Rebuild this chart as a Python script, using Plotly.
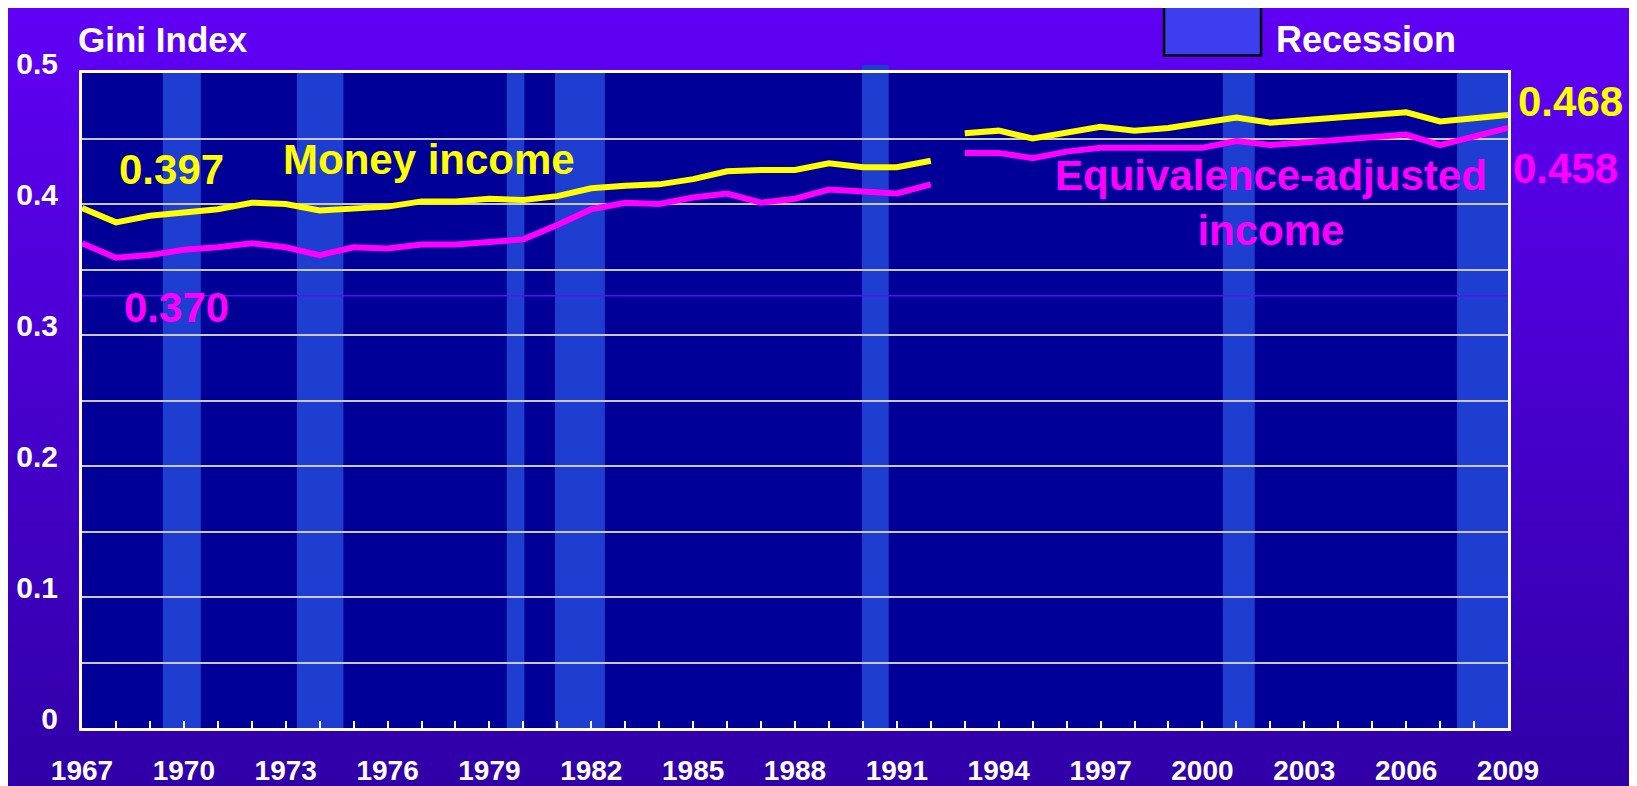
import plotly.graph_objects as go

# Gini index by year
years = list(range(1967, 2010))
money_income = [0.397, 0.386, 0.391, 0.394, 0.396, 0.401, 0.400, 0.395, 0.397, 0.398,
                0.402, 0.402, 0.404, 0.403, 0.406, 0.412, 0.414, 0.415, 0.419, 0.425,
                0.426, 0.426, 0.431, 0.428, 0.428, 0.433, 0.454, 0.456, 0.450, 0.455,
                0.459, 0.456, 0.458, 0.462, 0.466, 0.462, 0.464, 0.466, 0.469, 0.470,
                0.463, 0.466, 0.468]
equiv_income = [0.370, 0.359, 0.361, 0.365, 0.367, 0.370, 0.367, 0.361, 0.367, 0.366,
                0.369, 0.369, 0.371, 0.373, 0.384, 0.396, 0.401, 0.400, 0.405, 0.408,
                0.401, 0.404, 0.411, 0.409, 0.408, 0.415, 0.439, 0.439, 0.435, 0.440,
                0.443, 0.443, 0.443, 0.443, 0.448, 0.445, 0.447, 0.449, 0.452, 0.453,
                0.445, 0.452, 0.458]
break_after = 1992  # series break between 1992 and 1993

# recession periods (start, end) in fractional years
recessions = [(1969.38, 1970.50), (1973.33, 1974.70), (1979.51, 1980.03),
              (1980.93, 1982.40), (1989.97, 1990.76), (2000.60, 2001.54),
              (2007.50, 2009.20)]

y_ticks = [0, 0.1, 0.2, 0.3, 0.4, 0.5]
y_ticktext = ['0', '0.1', '0.2', '0.3', '0.4', '0.5']
x_ticks = list(range(1967, 2010, 3))

FONT = 'Liberation Sans, Arial, sans-serif'
NAVY = '#000099'
BAND = '#1e3ed2'

fig = go.Figure()

# lines, split at the series break
for vals, col in [(money_income, '#ffff00'), (equiv_income, '#ff00ff')]:
    for part in (lambda y: y <= break_after, lambda y: y > break_after):
        xs = [y for y in years if part(y)]
        ys = [v for y, v in zip(years, vals) if part(y)]
        fig.add_trace(go.Scatter(x=xs, y=ys, mode='lines', showlegend=False,
                                 line=dict(color=col, width=6), hoverinfo='skip'))

shapes = []
# vertical gradient background (paper coords cover the whole page)
top_rgb = (97, 0, 246)
bot_rgb = (47, 0, 166)
n = 60
y_lo, y_hi = -0.12, 1.12
for i in range(n):
    f = i / (n - 1)
    r = round(bot_rgb[0] + (top_rgb[0] - bot_rgb[0]) * f)
    g = round(bot_rgb[1] + (top_rgb[1] - bot_rgb[1]) * f)
    b = round(bot_rgb[2] + (top_rgb[2] - bot_rgb[2]) * f)
    y0 = y_lo + (y_hi - y_lo) * i / n
    y1 = y_lo + (y_hi - y_lo) * (i + 1) / n + 0.002
    shapes.append(dict(type='rect', xref='paper', yref='paper', x0=-0.07, x1=1.11,
                       y0=y0, y1=y1, fillcolor=f'rgb({r},{g},{b})', line_width=0,
                       layer='below'))
# plot area background
shapes.append(dict(type='rect', xref='paper', yref='paper', x0=0, x1=1, y0=0, y1=1,
                   fillcolor=NAVY, line_width=0, layer='below'))
# recession bands
for s, e in recessions:
    shapes.append(dict(type='rect', xref='x', yref='y', x0=s, x1=e, y0=0, y1=0.5,
                       fillcolor=BAND, line_width=0, layer='below'))
# the 1990 band pokes above the frame
shapes.append(dict(type='rect', xref='x', yref='paper', x0=1989.97, x1=1990.76,
                   y0=1.0, y1=1.012, fillcolor=BAND, line_width=0, layer='below'))
# faint purple line near 0.33
shapes.append(dict(type='line', xref='x', yref='y', x0=1967, x1=2009, y0=0.33, y1=0.33,
                   line=dict(color='#5a10f0', width=1.5), layer='below'))
# legend swatch
shapes.append(dict(type='rect', xref='paper', yref='paper', x0=0.7588, x1=0.8268,
                   y0=1.0267, y1=1.1015, fillcolor='#3e3ef0',
                   line=dict(color='black', width=2.5)))

fig.update_layout(shapes=shapes)

# (text, x, y, ref, xanchor, size, color)
labels = [
    ('Gini Index', -0.004, 1.0511, 'paper', 'left', 35, 'white'),
    ('Recession', 0.836, 1.0519, 'paper', 'left', 36, 'white'),
    ('0.468', 1.0439, 0.9565, 'paper', 'center', 42, '#ffff00'),
    ('0.458', 1.0400, 0.8542, 'paper', 'center', 42, '#ff00ff'),
    ('0.397', 1969.64, 0.4263, 'data', 'center', 42, '#ffff00'),
    ('Money income', 1977.22, 0.434, 'data', 'center', 42, '#ffff00'),
    ('0.370', 1969.79, 0.321, 'data', 'center', 42, '#ff00ff'),
    ('Equivalence-adjusted<br>income', 2002.03, 0.4006, 'data', 'center', 42, '#ff00ff'),
]
for text, x, y, ref, xa, size, col in labels:
    fig.add_annotation(text=text, x=x, y=y, xanchor=xa, yanchor='middle', showarrow=False,
                       xref='paper' if ref == 'paper' else 'x',
                       yref='paper' if ref == 'paper' else 'y',
                       font=dict(family=FONT, weight='bold', size=size, color=col))

fig.update_xaxes(range=[1967, 2009], tickvals=x_ticks, showgrid=False, zeroline=False,
                 ticks='inside', ticklen=7, tickwidth=2, tickcolor='white',
                 minor=dict(dtick=1, tick0=1967, ticks='inside', ticklen=7, tickwidth=2,
                            tickcolor='white', showgrid=False),
                 showline=True, linecolor='white', linewidth=3, mirror=True,
                 tickfont=dict(family=FONT, size=28, color='white', weight='bold'),
                 ticklabelstandoff=15, automargin=False)
fig.update_yaxes(range=[0, 0.5], tickvals=y_ticks, ticktext=y_ticktext,
                 showgrid=True, gridcolor='#c8c8c8', gridwidth=2, zeroline=False,
                 minor=dict(dtick=0.05, tick0=0, showgrid=True, gridcolor='#c8c8c8',
                            gridwidth=2),
                 ticks='', showline=True, linecolor='white', linewidth=3, mirror=True,
                 tickfont=dict(family=FONT, size=30, color='white', weight='bold'),
                 ticklabelstandoff=15, ticklabelshift=-10, automargin=False)

# page body adds an 8px offset, so margins are trimmed to keep the frame in place
fig.update_layout(width=1637, height=786, margin=dict(l=74, r=137, t=65, b=66),
                  paper_bgcolor='#4a00d8', plot_bgcolor=NAVY, showlegend=False)

fig.write_html('out.html')
